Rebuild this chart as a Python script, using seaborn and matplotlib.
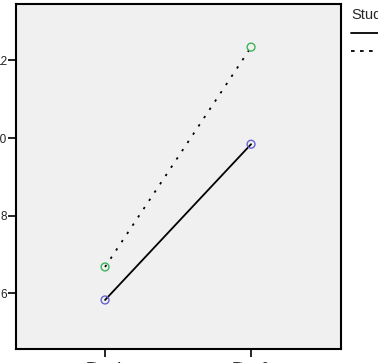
import matplotlib
matplotlib.use("Agg")
import matplotlib.pyplot as plt
import seaborn as sns
import pandas as pd
from matplotlib.lines import Line2D

# ---- data ----
times = ["Time 1", "Time 2"]
groups = ["No", "Yes"]
values_no = [5.83, 9.84]
values_yes = [6.68, 12.34]
y_ticks = [6, 8, 10, 12]
legend_title = "Student"
marker_colors = ["#6464d2", "#3cb45a"]

df = pd.DataFrame({
    "time": times * 2,
    "group": [groups[0]] * 2 + [groups[1]] * 2,
    "value": values_no + values_yes,
})

sns.set_theme(style="white")
plt.rcParams['font.family'] = ['Liberation Sans', 'DejaVu Sans']

fig = plt.figure(figsize=(3.78, 3.63), dpi=100)
ax = fig.add_axes([0.0423, 0.0377, 0.8598, 0.9513])
ax.set_facecolor("#f0f0f0")

sns.lineplot(data=df, x="time", y="value", style="group", style_order=groups,
             dashes={groups[0]: "", groups[1]: (1.3, 4.2)}, color="black",
             lw=1.3, ax=ax, legend=False, sort=False)
sns.scatterplot(data=df, x="time", y="value", hue="group", hue_order=groups,
                palette=marker_colors, s=32, ax=ax, legend=False, zorder=3)
coll = ax.collections[-1]
fc = coll.get_facecolors()
coll.set_edgecolors(fc)
coll.set_facecolors("none")
coll.set_linewidth(1.0)

ax.set_xlim(-0.61, 1.616)
ax.set_ylim(4.56, 13.45)
ax.set_yticks(y_ticks)
ax.set_yticklabels([str(v) for v in y_ticks])
ax.set_xlabel("")
ax.set_ylabel("")
for sp in ax.spines.values():
    sp.set_color("black")
    sp.set_linewidth(1.5)
ax.tick_params(axis="both", bottom=True, left=True, direction="out", length=5.5,
               width=1.2, color="black", labelsize=8.5, labelcolor="#222222")
ax.tick_params(axis="y", pad=1.2)
ax.tick_params(axis="x", pad=3.5)

handles = [Line2D([], [], color="black", lw=1.3, ls="-"),
           Line2D([], [], color="black", lw=1.3, ls=(0, (2.0, 3.0)))]
fig.legend(handles, groups, title=legend_title, loc="upper left",
           bbox_to_anchor=(351 / 378, 1 - 8 / 363), frameon=False,
           title_fontsize=10.5, fontsize=9, handlelength=2.5, alignment="left",
           borderpad=0, borderaxespad=0, labelspacing=0.5)

fig.savefig("out.png", dpi=100, facecolor="white")
